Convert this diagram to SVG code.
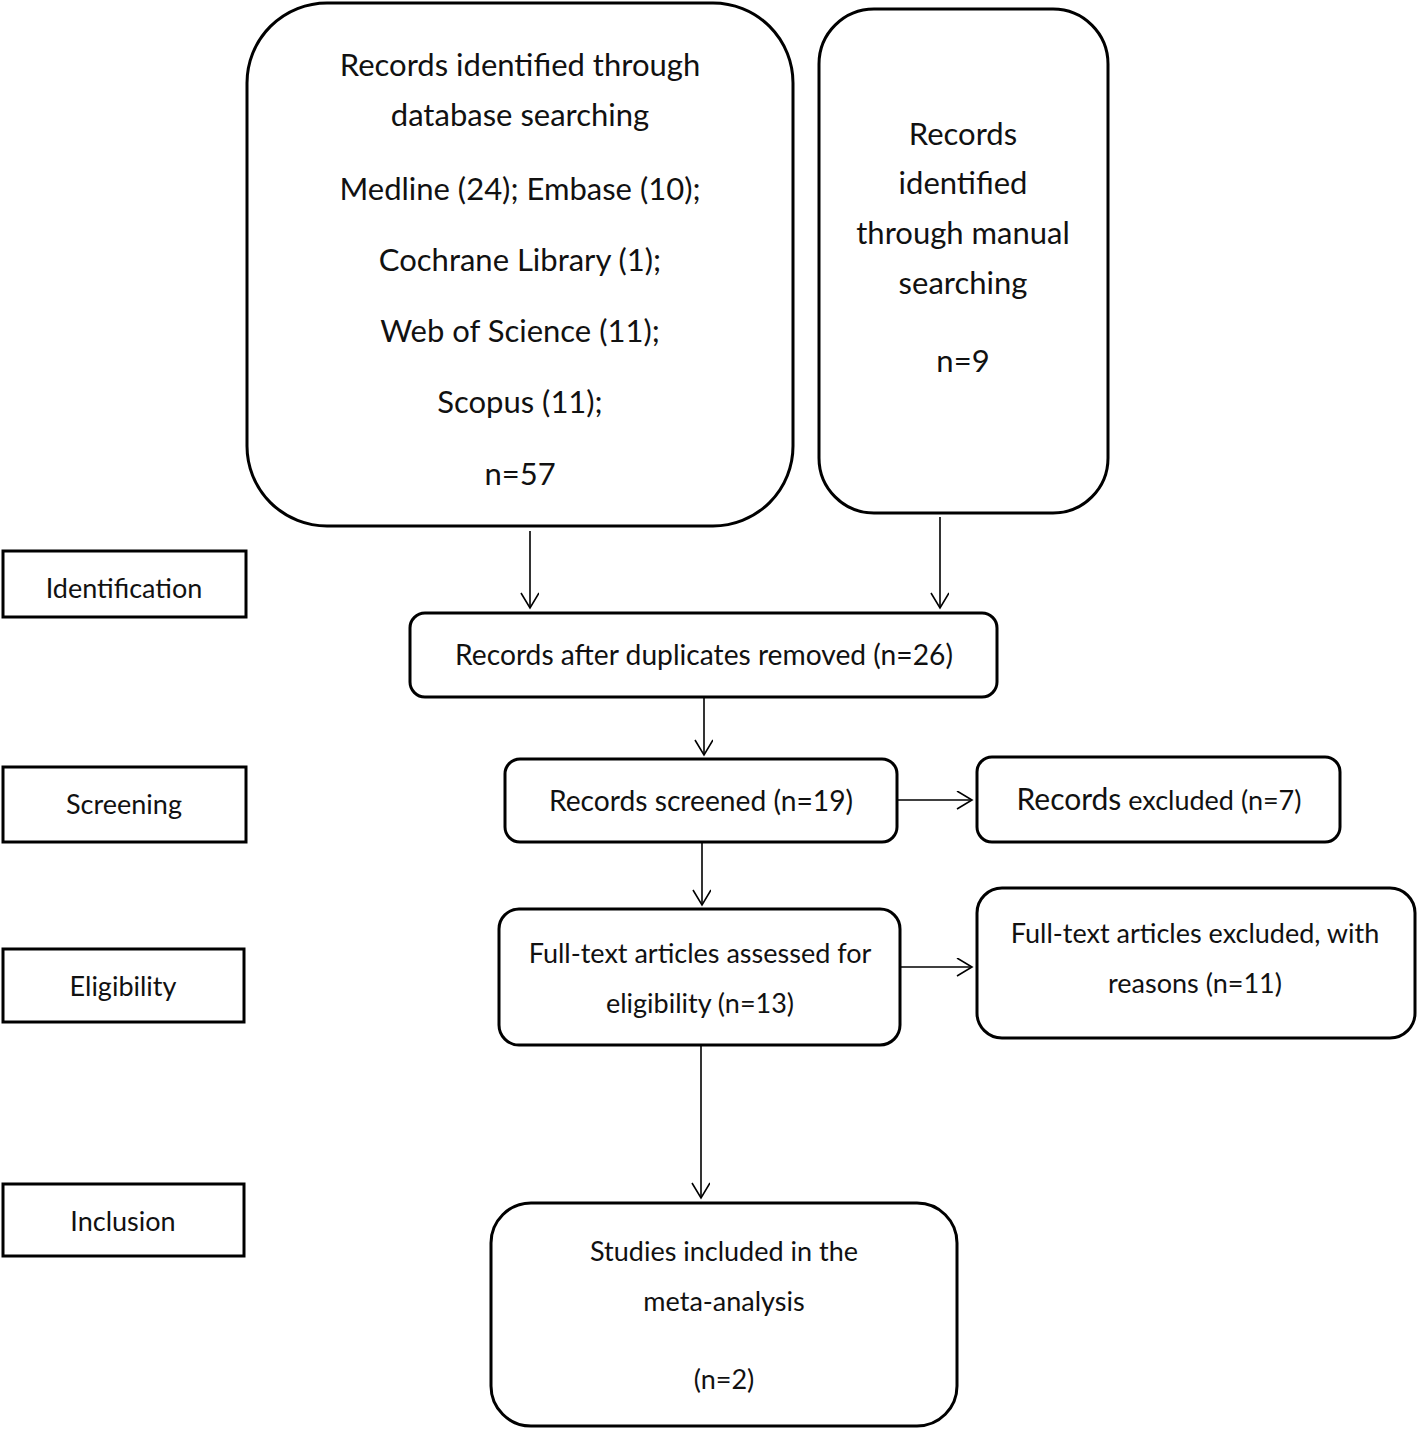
<svg xmlns="http://www.w3.org/2000/svg" width="1418" height="1430" viewBox="0 0 1418 1430">
<style>
.box{fill:#fff;stroke:#000;stroke-width:3}
.lab{fill:#fff;stroke:#000;stroke-width:3}
.t{font-family:Lato,"Liberation Sans",sans-serif;fill:#111;text-anchor:middle}
.big{font-size:31px}
.mid{font-size:28.2px}
.sm{font-size:27px}
.c{stroke:#000;stroke-width:1.6;fill:none}
</style>
<defs>
<marker id="ah" markerWidth="20" markerHeight="20" refX="16" refY="9" orient="auto" markerUnits="userSpaceOnUse">
<path d="M1,0 L16,9 L1,18" fill="none" stroke="#000" stroke-width="1.6"/>
</marker>
</defs>
<rect width="1418" height="1430" fill="#fff"/>
<g id="db">
<rect class="box" x="247" y="3" width="546" height="523" rx="80"/>
<text class="t big" x="520" y="76">Records identified through</text>
<text class="t big" x="520" y="126">database searching</text>
<text class="t big" x="520" y="200">Medline (24); Embase (10);</text>
<text class="t big" x="520" y="271">Cochrane Library (1);</text>
<text class="t big" x="520" y="342">Web of Science (11);</text>
<text class="t big" x="520" y="413">Scopus (11);</text>
<text class="t big" x="520" y="485">n=57</text>
</g>
<g id="manual">
<rect class="box" x="819" y="9" width="289" height="504" rx="55"/>
<text class="t big" x="963" y="145">Records</text>
<text class="t big" x="963" y="194">identified</text>
<text class="t big" x="963" y="244">through manual</text>
<text class="t big" x="963" y="294">searching</text>
<text class="t big" x="963" y="372">n=9</text>
</g>
<g id="identification">
<rect class="lab" x="3" y="551" width="243" height="66"/>
<text class="t sm" x="124" y="598">Identification</text>
</g>
<g id="screening">
<rect class="lab" x="3" y="767" width="243" height="75"/>
<text class="t sm" x="124" y="814">Screening</text>
</g>
<g id="eligibility">
<rect class="lab" x="3" y="949" width="241" height="73"/>
<text class="t sm" x="123" y="996">Eligibility</text>
</g>
<g id="inclusion">
<rect class="lab" x="3" y="1184" width="241" height="72"/>
<text class="t sm" x="123" y="1231">Inclusion</text>
</g>
<g id="dup">
<rect class="box" x="410" y="613" width="587" height="84" rx="15"/>
<text class="t mid" x="704" y="665">Records after duplicates removed (n=26)</text>
</g>
<g id="screened">
<rect class="box" x="505" y="759" width="392" height="83" rx="15"/>
<text class="t mid" x="701" y="811">Records screened (n=19)</text>
</g>
<g id="excluded">
<rect class="box" x="977" y="757" width="363" height="85" rx="15"/>
<text class="t" x="1159" y="810"><tspan font-size="30px">Records</tspan><tspan font-size="27px"> excluded (n=7)</tspan></text>
</g>
<g id="fulltext">
<rect class="box" x="499" y="909" width="401" height="136" rx="20"/>
<text class="t sm" x="700" y="963">Full-text articles assessed for</text>
<text class="t sm" x="700" y="1013">eligibility (n=13)</text>
</g>
<g id="ftexcluded">
<rect class="box" x="977" y="888" width="438" height="150" rx="25"/>
<text class="t sm" x="1195" y="943">Full-text articles excluded, with</text>
<text class="t sm" x="1195" y="993">reasons (n=11)</text>
</g>
<g id="included">
<rect class="box" x="491" y="1203" width="466" height="223" rx="40"/>
<text class="t sm" x="724" y="1261">Studies included in the</text>
<text class="t sm" x="724" y="1311">meta-analysis</text>
<text class="t sm" x="724" y="1389">(n=2)</text>
</g>
<g id="connectors">
<line class="c" x1="530" y1="531" x2="530" y2="608" marker-end="url(#ah)"/>
<line class="c" x1="940" y1="517" x2="940" y2="608" marker-end="url(#ah)"/>
<line class="c" x1="704" y1="697" x2="704" y2="755" marker-end="url(#ah)"/>
<line class="c" x1="702" y1="842" x2="702" y2="905" marker-end="url(#ah)"/>
<line class="c" x1="897" y1="800" x2="972" y2="800" marker-end="url(#ah)"/>
<line class="c" x1="900" y1="967" x2="972" y2="967" marker-end="url(#ah)"/>
<line class="c" x1="701" y1="1045" x2="701" y2="1198" marker-end="url(#ah)"/>
</g>
</svg>
